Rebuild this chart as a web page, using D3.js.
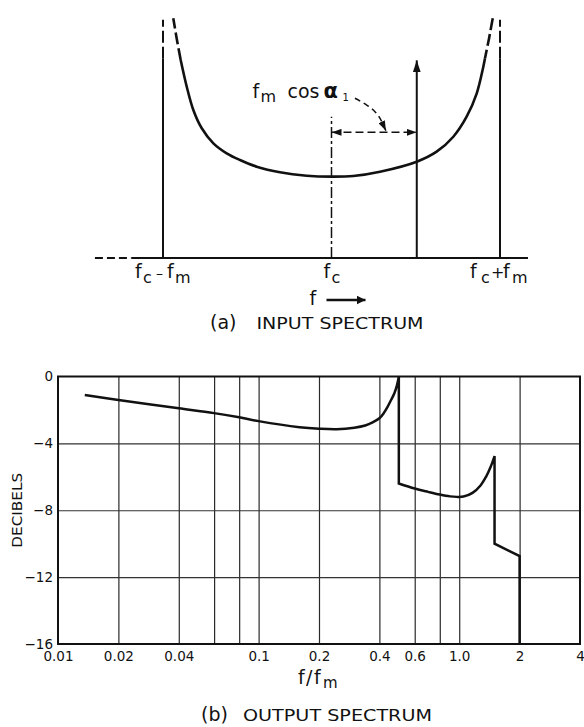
<!DOCTYPE html>
<html><head><meta charset="utf-8">
<script src="https://cdn.jsdelivr.net/npm/d3@7"></script>
<style>
html,body{margin:0;padding:0;background:#fff;}
svg{display:block;}
text{font-family:"DejaVu Sans",sans-serif;fill:#111;}
</style></head><body>
<svg id="chart" width="584" height="727"></svg>
<script>
// ---------------- (a) INPUT SPECTRUM (schematic) ----------------
// u = (f - fc)/fm , v = relative amplitude (value at fc = 1)
const specTailLeft  = [[-0.939,2.947],[-0.918,2.69],[-0.895,2.435]];
const specBody = [[-0.895,2.435],[-0.859,2.106],[-0.820,1.82],[-0.770,1.595],[-0.701,1.41],
  [-0.622,1.287],[-0.543,1.205],[-0.444,1.123],[-0.306,1.054],[-0.147,1.012],[0,1.0],
  [0.129,1.008],[0.288,1.061],[0.506,1.184],[0.624,1.307],[0.723,1.491],[0.802,1.737],
  [0.862,2.025],[0.901,2.352],[0.911,2.455]];
const specTailRight = [[0.911,2.455],[0.935,2.70],[0.957,2.947]];
const sidebandU = [-1, 1];
const sidebandSolidTop = 2.45, sidebandDashTop = 2.93;
const componentU = 0.506, componentTop = 2.43;      // fm cos(alpha1)
const offsetArrowV = 1.545;
const centreLineTop = 1.737;
const baselineSolid = [-1.186, 1.166], baselineDashFrom = -1.404;
const pointer = [[0.139,1.964],[0.209,1.881],[0.258,1.799],[0.288,1.718],[0.307,1.635],[0.323,1.565]];

// ---------------- (b) OUTPUT SPECTRUM ----------------
const xTicks = [0.01,0.02,0.04,0.1,0.2,0.4,0.6,1.0,2,4];
const xTickLabels = ["0.01","0.02","0.04","0.1","0.2","0.4","0.6","1.0","2","4"];
const xGrid = [0.02,0.04,0.06,0.08,0.1,0.2,0.4,0.6,0.8,1.0,2];
const yTicks = [0,-4,-8,-12,-16];
const yTickLabels = ["0","\u22124","\u22128","\u221212","\u221216"];
const yGrid = [-4,-8,-12];
const responseLow = [[0.0136,-1.11],[0.02,-1.41],[0.04,-1.9],[0.06,-2.19],[0.08,-2.44],[0.1,-2.67],
  [0.16,-3.03],[0.2,-3.12],[0.245,-3.15],[0.3,-3.06],[0.34,-2.93],[0.37,-2.75],[0.4,-2.5],
  [0.42,-2.2],[0.44,-1.8],[0.46,-1.35],[0.475,-1.0],[0.49,-0.5],[0.5,0]];
const responseMid = [[0.5,-6.4],[0.6,-6.7],[0.7,-6.9],[0.8,-7.06],[0.9,-7.17],[0.97,-7.2],
  [1.05,-7.18],[1.165,-6.96],[1.28,-6.5],[1.36,-6.0],[1.435,-5.4],[1.5,-4.76]];
const responseHigh = [[1.5,-10.0],[2.0,-10.74],[2.0,-16]];

const INK = "#111";
const svg = d3.select("#chart");
const defs = svg.append("defs");
function marker(id, len, hw){
  defs.append("marker").attr("id",id)
    .attr("viewBox",`0 ${-hw} ${len} ${2*hw}`).attr("refX",len).attr("refY",0)
    .attr("markerWidth",len).attr("markerHeight",2*hw)
    .attr("markerUnits","userSpaceOnUse").attr("orient","auto-start-reverse")
    .append("path").attr("d",`M0,${-hw}L${len},0L0,${hw}Z`).attr("fill",INK);
}
marker("ah", 10, 3.5);
marker("ahv", 12, 4);
marker("ahf", 9, 4.5);

function rich(g, x0, y0, parts){
  const t = g.append("text").attr("x",x0).attr("y",y0);
  parts.forEach(p=>{
    t.append("tspan").attr("x",x0+p.dx).attr("y",y0+(p.dy||0))
      .attr("font-size",p.size).attr("font-weight",p.bold?"bold":null).text(p.t);
  });
  return t;
}

// ---- panel a ----
const xa = d3.scaleLinear().domain([-1,1]).range([163,500]);
const ya = d3.scaleLinear().domain([0,3]).range([258,14]);
const gA = svg.append("g");
const lineA = d3.line().x(d=>xa(d[0])).y(d=>ya(d[1])).curve(d3.curveCatmullRom.alpha(0.5));

gA.append("line").attr("x1",xa(baselineDashFrom)).attr("x2",xa(baselineSolid[0]))
  .attr("y1",ya(0)).attr("y2",ya(0)).attr("stroke",INK).attr("stroke-width",1.8).attr("stroke-dasharray","8,4");
gA.append("line").attr("x1",xa(baselineSolid[0])).attr("x2",xa(baselineSolid[1]))
  .attr("y1",ya(0)).attr("y2",ya(0)).attr("stroke",INK).attr("stroke-width",1.8);

sidebandU.forEach(u=>{
  gA.append("line").attr("x1",xa(u)).attr("x2",xa(u)).attr("y1",ya(0)).attr("y2",ya(sidebandSolidTop))
    .attr("stroke",INK).attr("stroke-width",2);
  gA.append("line").attr("x1",xa(u)).attr("x2",xa(u)).attr("y1",ya(sidebandSolidTop)).attr("y2",ya(sidebandDashTop))
    .attr("stroke",INK).attr("stroke-width",2).attr("stroke-dasharray","12,4");
});

gA.append("path").attr("d",lineA(specBody)).attr("fill","none").attr("stroke",INK).attr("stroke-width",2.6);
[specTailLeft, specTailRight].forEach(s=>{
  gA.append("path").attr("d",d3.line().x(d=>xa(d[0])).y(d=>ya(d[1]))(s.slice().reverse()))
    .attr("fill","none").attr("stroke",INK).attr("stroke-width",2.6).attr("stroke-dasharray","12,4");
});

// centre line fc
gA.append("line").attr("x1",xa(0)).attr("x2",xa(0)).attr("y1",ya(0)).attr("y2",ya(centreLineTop))
  .attr("stroke",INK).attr("stroke-width",1.5).attr("stroke-dasharray","11,3,3,3");
// component at fc + fm cos a1
gA.append("line").attr("x1",xa(componentU)).attr("x2",xa(componentU)).attr("y1",ya(0)).attr("y2",ya(componentTop))
  .attr("stroke",INK).attr("stroke-width",2).attr("marker-end","url(#ahv)");
// offset arrow
gA.append("line").attr("x1",xa(0)).attr("x2",xa(componentU)).attr("y1",ya(offsetArrowV)).attr("y2",ya(offsetArrowV))
  .attr("stroke",INK).attr("stroke-width",1.5).attr("stroke-dasharray","8,4")
  .attr("marker-start","url(#ah)").attr("marker-end","url(#ah)");
// pointer
gA.append("path").attr("d",lineA(pointer)).attr("fill","none").attr("stroke",INK).attr("stroke-width",1.5)
  .attr("stroke-dasharray","6,4").attr("marker-end","url(#ah)");

// annotation label
{
  const x0 = xa(0)-79, y0 = ya(offsetArrowV)-34;
  rich(gA, x0, y0, [
    {t:"f",dx:0,size:19},{t:"m",dx:8,dy:3.5,size:16},
    {t:"cos",dx:35,size:19},{t:"\u03B1",dx:71,size:21,bold:true},{t:"1",dx:90,dy:3,size:10}
  ]);
}
// tick labels
const tyA = ya(0)+20;
rich(gA, xa(-1), tyA, [{t:"f",dx:-28,size:19},{t:"c",dx:-20,dy:5,size:16},{t:"\u2013",dx:-7,size:14},
  {t:"f",dx:4,size:19},{t:"m",dx:12,dy:5,size:16}]);
rich(gA, xa(0), tyA, [{t:"f",dx:-8,size:19},{t:"c",dx:0,dy:5,size:16}]);
rich(gA, xa(1), tyA, [{t:"f",dx:-30,size:19},{t:"c",dx:-19,dy:5,size:16},{t:"+",dx:-9,size:16},
  {t:"f",dx:3,size:19},{t:"m",dx:12,dy:5,size:16}]);
// f ->
gA.append("text").attr("x",xa(0)-22).attr("y",ya(0)+47).attr("font-size",19).text("f");
gA.append("line").attr("x1",xa(0)-5).attr("x2",xa(0)+34).attr("y1",ya(0)+42).attr("y2",ya(0)+42)
  .attr("stroke",INK).attr("stroke-width",2.6).attr("marker-end","url(#ahf)");
// title a
gA.append("text").attr("x",210).attr("y",ya(0)+71).attr("font-size",19).text("(a)");
gA.append("text").attr("x",256.5).attr("y",ya(0)+71).attr("font-size",15)
  .attr("textLength",167).attr("lengthAdjust","spacingAndGlyphs").text("INPUT SPECTRUM");

// ---- panel b ----
const xb = d3.scaleLog().domain([0.01,4]).range([58,580]);
const yb = d3.scaleLinear().domain([-16,0]).range([644,376.5]);
const gB = svg.append("g");

// grid via axes
gB.append("g").attr("transform",`translate(0,${yb(-16)})`)
  .call(d3.axisBottom(xb).tickValues(xGrid).tickSize(-(yb(-16)-yb(0))).tickFormat(""))
  .call(g=>g.select(".domain").remove())
  .call(g=>g.selectAll("line").attr("stroke","#2a2a2a").attr("stroke-width",1.2));
gB.append("g").attr("transform",`translate(${xb(0.01)},0)`)
  .call(d3.axisLeft(yb).tickValues(yGrid).tickSize(-(xb(4)-xb(0.01))).tickFormat(""))
  .call(g=>g.select(".domain").remove())
  .call(g=>g.selectAll("line").attr("stroke","#333").attr("stroke-width",1.2));

// frame
gB.append("rect").attr("x",xb(0.01)).attr("y",yb(0)).attr("width",xb(4)-xb(0.01)).attr("height",yb(-16)-yb(0))
  .attr("fill","none").attr("stroke",INK).attr("stroke-width",2);

// tick labels via axes
gB.append("g").attr("transform",`translate(0,${yb(-16)})`)
  .call(d3.axisBottom(xb).tickValues(xTicks).tickSize(0).tickPadding(7).tickFormat((d,i)=>xTickLabels[i]))
  .call(g=>g.select(".domain").remove())
  .call(g=>g.selectAll("text").attr("font-size",13.5).attr("font-family","DejaVu Sans").attr("fill",INK));
gB.append("g").attr("transform",`translate(${xb(0.01)},0)`)
  .call(d3.axisLeft(yb).tickValues(yTicks).tickSize(0).tickPadding(5).tickFormat((d,i)=>yTickLabels[i]))
  .call(g=>g.select(".domain").remove())
  .call(g=>g.selectAll("text").attr("font-size",13.5).attr("font-family","DejaVu Sans").attr("fill",INK));

// response curve
const lineB = d3.line().x(d=>xb(d[0])).y(d=>yb(d[1])).curve(d3.curveCatmullRom.alpha(0.5));
const lineBL = d3.line().x(d=>xb(d[0])).y(d=>yb(d[1]));
const dResp = lineB(responseLow) + lineB(responseMid).replace(/^M/,"L") + lineBL(responseHigh).replace(/^M/,"L");
gB.append("path").attr("d",dResp).attr("fill","none").attr("stroke",INK).attr("stroke-width",2.5)
  .attr("stroke-linejoin","miter");

// axis titles
gB.append("text").attr("transform",`translate(22,${(yb(0)+yb(-16))/2}) rotate(-90)`)
  .attr("text-anchor","middle").attr("font-size",13.5).attr("textLength",75).attr("lengthAdjust","spacingAndGlyphs").text("DECIBELS");
rich(gB, 298, 684, [{t:"f",dx:0,size:19},{t:"/",dx:8,size:19},{t:"f",dx:16,size:19},{t:"m",dx:25,dy:4,size:15}]);
gB.append("text").attr("x",201).attr("y",721).attr("font-size",19).text("(b)");
gB.append("text").attr("x",243).attr("y",721).attr("font-size",15)
  .attr("textLength",189).attr("lengthAdjust","spacingAndGlyphs").text("OUTPUT SPECTRUM");
</script>
</body></html>
